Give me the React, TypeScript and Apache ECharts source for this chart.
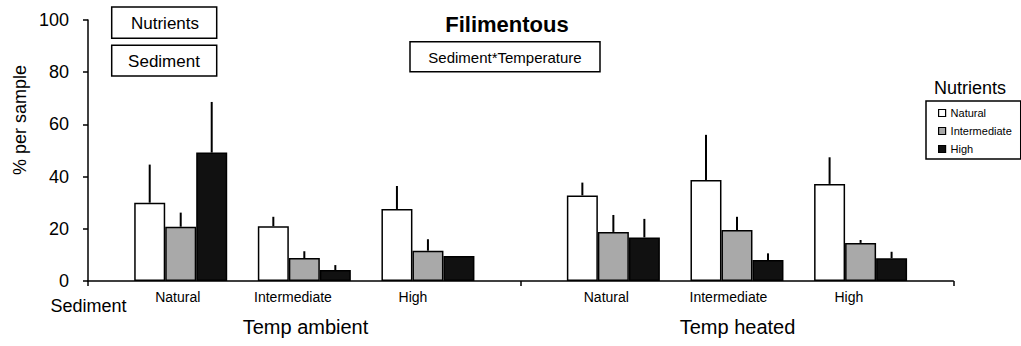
import React, { useEffect, useRef } from "react";
import * as echarts from "echarts";

// ---------- data ----------
const sedimentLevels = ["Natural", "Intermediate", "High"];
const temperatures = ["Temp ambient", "Temp heated"];
const nutrientLevels = ["Natural", "Intermediate", "High"];
// position of each Sediment x Temperature group on the numeric x axis (0..7)
const groupSlots = [0.75, 1.75, 2.75, 4.25, 5.25, 6.25];
const naturalMeans = [30, 21, 27.6, 32.8, 38.7, 37.2];
const naturalErrors = [14.6, 3.6, 8.8, 4.9, 17.3, 10.2];
const intermediateMeans = [20.8, 8.8, 11.6, 18.8, 19.5, 14.6];
const intermediateErrors = [5.4, 2.6, 4.4, 6.5, 5.1, 1.1];
const highMeans = [49.2, 4.2, 9.6, 16.7, 8.0, 8.7];
const highErrors = [19.4, 1.9, 0, 7.1, 2.6, 2.5];
const yTicks = [0, 20, 40, 60, 80, 100];

// ---------- layout / style ----------
const FONT = "'Liberation Sans', Arial, Helvetica, sans-serif";
const BAR_W = 31;
const labelSlots = [0.726, 1.658, 2.629, 4.193, 5.181, 6.155];
const fills = ["#ffffff", "#a9a9a9", "#111111"];

export default function App() {
  const ref = useRef<HTMLDivElement>(null);

  useEffect(() => {
    if (!ref.current) return;
    const chart = echarts.init(ref.current, undefined, { renderer: "svg" });

    const means = [naturalMeans, intermediateMeans, highMeans];
    const errs = [naturalErrors, intermediateErrors, highErrors];
    const sedLabels = [...sedimentLevels, ...sedimentLevels];

    const barSeries = nutrientLevels.map((name, i) => ({
      type: "bar",
      name,
      barWidth: BAR_W,
      barGap: "0%",
      data: groupSlots.map((x, k) => [x, means[i][k]]),
      itemStyle: { color: fills[i], borderColor: "#000", borderWidth: 1.5 },
      z: 2,
    }));

    const errSeries = nutrientLevels.map((name, i) => ({
      type: "custom",
      name: "err-" + name,
      z: 3,
      data: groupSlots.map((x, k) => [x, means[i][k], errs[i][k]]),
      renderItem: (_p: any, api: any) => {
        const x = api.value(0);
        const y = api.value(1);
        const e = api.value(2);
        if (!e) return null;
        const p0 = api.coord([x, y]);
        const p1 = api.coord([x, y + e]);
        const dx = (i - 1) * BAR_W;
        return {
          type: "line",
          shape: { x1: p0[0] + dx, y1: p0[1], x2: p1[0] + dx, y2: p1[1] },
          style: { stroke: "#000", lineWidth: 2 },
        };
      },
    }));

    const nearestLabel = (v: number) => {
      let best = 0;
      labelSlots.forEach((s, k) => {
        if (Math.abs(s - v) < Math.abs(labelSlots[best] - v)) best = k;
      });
      return sedLabels[best];
    };

    const option: any = {
      animation: false,
      textStyle: { fontFamily: FONT },
      grid: { left: 88, right: 67.7, top: 20, bottom: 65 },
      xAxis: {
        type: "value",
        min: 0,
        max: 7,
        splitLine: { show: false },
        axisLine: { show: true, lineStyle: { color: "#000", width: 1.5 } },
        axisTick: {
          show: true,
          customValues: [0, 3.5, 7],
          length: 5,
          lineStyle: { color: "#000", width: 1.5 },
        },
        axisLabel: {
          show: true,
          customValues: labelSlots,
          formatter: (v: number) => nearestLabel(v),
          fontSize: 14,
          color: "#000",
          fontFamily: FONT,
          margin: 9,
        },
      },
      yAxis: {
        type: "value",
        min: yTicks[0],
        max: yTicks[yTicks.length - 1],
        interval: yTicks[1] - yTicks[0],
        splitLine: { show: false },
        axisLine: { show: true, lineStyle: { color: "#000", width: 1.5 } },
        axisTick: { show: true, length: 5, lineStyle: { color: "#000", width: 1.5 } },
        axisLabel: { fontSize: 18, color: "#000", fontFamily: FONT, margin: 19 },
      },
      legend: {
        orient: "vertical",
        left: 926,
        top: 101,
        padding: [6, 9, 4, 12],
        borderColor: "#000",
        borderWidth: 1.5,
        itemWidth: 7,
        itemHeight: 7,
        itemGap: 6,
        selectedMode: false,
        icon: "rect",
        textStyle: { fontSize: 11, color: "#000", fontFamily: FONT, lineHeight: 12 },
        data: nutrientLevels.map((name, i) => ({
          name,
          itemStyle: { color: fills[i], borderColor: "#000", borderWidth: 1.2 },
        })),
      },
      graphic: [
        {
          type: "text",
          x: 507,
          y: 24,
          style: {
            text: "Filimentous",
            fontSize: 22,
            fontWeight: "bold",
            fontFamily: FONT,
            fill: "#000",
            align: "center",
            verticalAlign: "middle",
          },
        },
        {
          type: "rect",
          shape: { x: 111.7, y: 7, width: 105, height: 31.3 },
          style: { fill: "#fff", stroke: "#000", lineWidth: 1.5 },
        },
        {
          type: "text",
          x: 165,
          y: 23,
          style: { text: "Nutrients", fontSize: 17, fontFamily: FONT, fill: "#000", align: "center", verticalAlign: "middle" },
        },
        {
          type: "rect",
          shape: { x: 111.7, y: 45.3, width: 105, height: 30.7 },
          style: { fill: "#fff", stroke: "#000", lineWidth: 1.5 },
        },
        {
          type: "text",
          x: 164,
          y: 61,
          style: { text: "Sediment", fontSize: 17, fontFamily: FONT, fill: "#000", align: "center", verticalAlign: "middle" },
        },
        {
          type: "rect",
          shape: { x: 410, y: 41.7, width: 190, height: 30 },
          style: { fill: "#fff", stroke: "#000", lineWidth: 1.5 },
        },
        {
          type: "text",
          x: 505,
          y: 57,
          style: { text: "Sediment*Temperature", fontSize: 15, fontFamily: FONT, fill: "#000", align: "center", verticalAlign: "middle" },
        },
        {
          type: "text",
          x: 970,
          y: 88,
          style: { text: "Nutrients", fontSize: 18, fontFamily: FONT, fill: "#000", align: "center", verticalAlign: "middle" },
        },
        {
          type: "text",
          x: 20,
          y: 120,
          rotation: Math.PI / 2,
          style: { text: "% per sample", fontSize: 18, fontFamily: FONT, fill: "#000", align: "center", verticalAlign: "middle" },
        },
        {
          type: "text",
          x: 88.5,
          y: 306,
          style: { text: "Sediment", fontSize: 18, fontFamily: FONT, fill: "#000", align: "center", verticalAlign: "middle" },
        },
        {
          type: "text",
          x: 305.5,
          y: 327,
          style: { text: temperatures[0], fontSize: 20, fontFamily: FONT, fill: "#000", align: "center", verticalAlign: "middle" },
        },
        {
          type: "text",
          x: 737.5,
          y: 327,
          style: { text: temperatures[1], fontSize: 20, fontFamily: FONT, fill: "#000", align: "center", verticalAlign: "middle" },
        },
      ],
      series: [...barSeries, ...errSeries],
    };

    chart.setOption(option);
    return () => chart.dispose();
  }, []);

  return (
    <div
      ref={ref}
      style={{ position: "fixed", left: 0, top: 0, width: 1021, height: 346, background: "#fff" }}
    />
  );
}
